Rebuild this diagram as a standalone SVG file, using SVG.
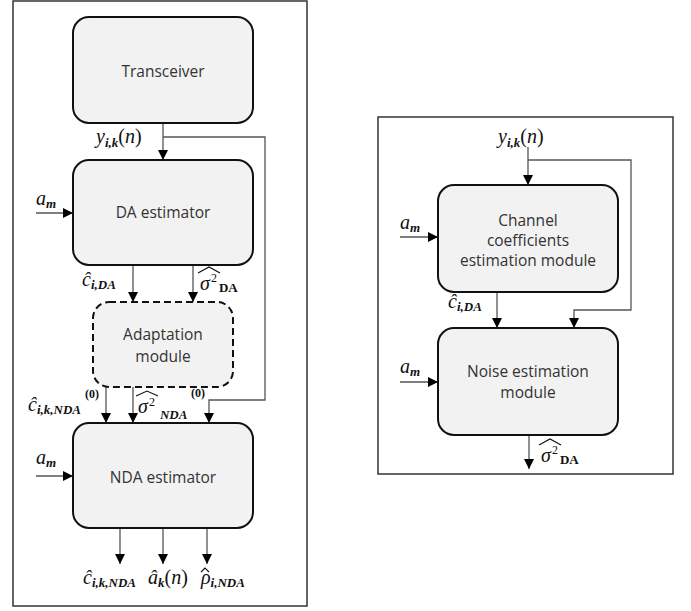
<svg xmlns="http://www.w3.org/2000/svg" width="691" height="611" viewBox="0 0 691 611">
<style>
.frame{fill:none;stroke:#333;stroke-width:1.5}
.box{fill:#f2f2f2;stroke:#111;stroke-width:2}
.dash{stroke-dasharray:7 4}
.lbl{font-family:"Open Sans","Liberation Sans",sans-serif;font-size:15.5px;fill:#333;text-anchor:middle}
.m{font-family:"Liberation Serif","DejaVu Serif",serif;font-style:italic;font-size:20px;fill:#111}
.s{font-size:13px;font-weight:bold}
.up{font-style:normal}
.sup{font-size:12px;font-style:normal}
.z{font-family:"Liberation Serif",serif;font-size:12px;font-weight:bold;fill:#111}
.c{fill:none;stroke:#555;stroke-width:1.3}
.hat{fill:none;stroke:#111;stroke-width:1.1}
</style>
<defs>
<marker id="ah" viewBox="0 0 10 10" refX="10" refY="5" markerWidth="10" markerHeight="10" markerUnits="userSpaceOnUse" orient="auto">
<path d="M0,0 L10,5 L0,10 z" fill="#000"/>
</marker>
</defs>
<rect class="frame" x="13" y="1" width="294" height="605"/>
<rect class="frame" x="378" y="117" width="295" height="357"/>

<g id="connectors">
<path class="c" d="M163,123 V160" marker-end="url(#ah)"/>
<path class="c" d="M163,137 H265 V400 H209 V423" marker-end="url(#ah)"/>
<path class="c" d="M36,213 H73" marker-end="url(#ah)"/>
<path class="c" d="M133,265 V302" marker-end="url(#ah)"/>
<path class="c" d="M193,265 V302" marker-end="url(#ah)"/>
<path class="c" d="M106,387 V423" marker-end="url(#ah)"/>
<path class="c" d="M133,387 V423" marker-end="url(#ah)"/>
<path class="c" d="M36,476 H73" marker-end="url(#ah)"/>
<path class="c" d="M120,528 V564" marker-end="url(#ah)"/>
<path class="c" d="M163,528 V564" marker-end="url(#ah)"/>
<path class="c" d="M207,528 V564" marker-end="url(#ah)"/>
<path class="c" d="M528,147 V185" marker-end="url(#ah)"/>
<path class="c" d="M528,160 H631 V310 H574 V328" marker-end="url(#ah)"/>
<path class="c" d="M400,237 H438" marker-end="url(#ah)"/>
<path class="c" d="M497,292 V328" marker-end="url(#ah)"/>
<path class="c" d="M400,382 H438" marker-end="url(#ah)"/>
<path class="c" d="M529,435 V469" marker-end="url(#ah)"/>
</g>

<g id="transceiver">
<rect class="box" x="73" y="17" width="180" height="106" rx="16"/>
<text class="lbl" x="163" y="77">Transceiver</text>
</g>
<g id="da-estimator">
<rect class="box" x="73" y="160" width="180" height="105" rx="16"/>
<text class="lbl" x="163" y="218">DA estimator</text>
</g>
<g id="adaptation">
<rect class="box dash" x="93" y="302" width="140" height="85" rx="16"/>
<text class="lbl" x="163" y="340">Adaptation</text>
<text class="lbl" x="163" y="362">module</text>
</g>
<g id="nda-estimator">
<rect class="box" x="73" y="423" width="180" height="105" rx="16"/>
<text class="lbl" x="163" y="483">NDA estimator</text>
</g>
<g id="channel-coeff">
<rect class="box" x="438" y="185" width="180" height="107" rx="16"/>
<text class="lbl" x="528" y="226">Channel</text>
<text class="lbl" x="528" y="246">coefficients</text>
<text class="lbl" x="528" y="266">estimation module</text>
</g>
<g id="noise-est">
<rect class="box" x="438" y="328" width="180" height="107" rx="16"/>
<text class="lbl" x="528" y="377">Noise estimation</text>
<text class="lbl" x="528" y="398">module</text>
</g>

<g id="labels">
<text class="m" x="96" y="143">y<tspan class="s" dy="4">i,k</tspan><tspan class="up" dy="-4">(</tspan>n<tspan class="up">)</tspan></text>
<text class="m" x="36" y="205">a<tspan class="s" dy="3">m</tspan></text>
<text class="m" x="82" y="286">ĉ<tspan class="s" dy="3">i,DA</tspan></text>
<text class="m" x="200" y="290">σ<tspan class="sup" dx="1" dy="-8">2</tspan><tspan class="s up" dx="2" dy="10">DA</tspan></text>
<polyline class="hat" points="198,273 209,267 220,273"/>

<text class="m" x="28" y="411">ĉ<tspan class="s" dy="3">i,k,NDA</tspan></text>
<text class="z" x="85" y="398">(0)</text>
<text class="m" x="138" y="413">σ<tspan class="sup" dx="1" dy="-7">2</tspan><tspan class="s" dx="5" dy="13">NDA</tspan></text>
<polyline class="hat" points="136,396 147,391 158,396"/>
<text class="z" x="191" y="397">(0)</text>
<text class="m" x="36" y="464">a<tspan class="s" dy="3">m</tspan></text>

<text class="m" x="83" y="584">ĉ<tspan class="s" dy="3">i,k,NDA</tspan></text>
<text class="m" x="148" y="584">â<tspan class="s" dy="3">k</tspan><tspan class="up" dy="-3">(</tspan>n<tspan class="up">)</tspan></text>
<text class="m" x="201" y="584">ρ<tspan class="s" dy="3">i,NDA</tspan></text>
<polyline class="hat" points="201,572 205,568 209,572"/>

<text class="m" x="498" y="143">y<tspan class="s" dy="4">i,k</tspan><tspan class="up" dy="-4">(</tspan>n<tspan class="up">)</tspan></text>
<text class="m" x="400" y="229">a<tspan class="s" dy="3">m</tspan></text>
<text class="m" x="448" y="308">ĉ<tspan class="s" dy="3">i,DA</tspan></text>
<text class="m" x="400" y="373">a<tspan class="s" dy="3">m</tspan></text>
<text class="m" x="541" y="462">σ<tspan class="sup" dx="1" dy="-8">2</tspan><tspan class="s up" dx="2" dy="10">DA</tspan></text>
<polyline class="hat" points="539,445 550,439 561,445"/>
</g>
</svg>
